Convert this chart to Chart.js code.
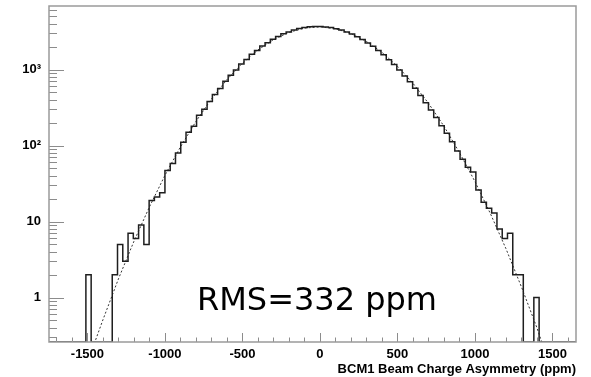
<!DOCTYPE html>
<html>
<head>
<meta charset="utf-8">
<script src="https://cdn.jsdelivr.net/npm/chart.js@4.4.0/dist/chart.umd.min.js"></script>
<style>
  html, body { margin: 0; padding: 0; background: #fff; }
  canvas { display: block; }
</style>
</head>
<body>
<canvas id="chart1" width="591" height="377"></canvas>
<script>
// histogram: 100 bins of 34 ppm starting at -1748 ppm
const binLow = -1748;
const binWidth = 34;
const counts = [
    0, 0, 0, 0, 0, 0, 0, 2, 0, 0,
    0, 0, 2, 5, 3, 7, 6, 9, 5, 19,
    21, 24, 47, 58, 80, 111, 150, 179, 250, 300,
    380, 470, 565, 700, 845, 990, 1185, 1360, 1590, 1790,
    2040, 2250, 2510, 2720, 2960, 3130, 3320, 3470, 3590, 3660,
    3700, 3690, 3640, 3580, 3440, 3310, 3120, 2940, 2700, 2490,
    2240, 2030, 1780, 1570, 1350, 1170, 985, 825, 690, 570,
    455, 365, 295, 235, 182, 145, 112, 85, 66, 52,
    45, 26, 18, 15, 13, 8, 6, 7, 2, 2,
    0, 0, 1, 0, 0, 0, 0, 0, 0, 0
];

// dotted gaussian fit
const fitX = [-1500, -1400, -1300, -1200, -1100, -1000, -900, -800, -700, -600, -500, -400, -300, -200, -100,
    0, 100, 200, 300, 400, 500, 600, 700, 800, 900, 1000, 1100, 1200, 1300, 1400, 1500];
const fitY = [0.14, 0.51, 1.76, 5.5, 15.6, 40.6, 96, 208, 410, 738, 1213, 1816, 2481, 3092, 3517,
    3648, 3453, 2981, 2348, 1687, 1106, 661, 361, 180, 81, 33.7, 12.7, 4.4, 1.38, 0.40, 0.10];

const xMajor = [-1500, -1000, -500, 0, 500, 1000, 1500];
const xMinor = [-1700, -1600, -1400, -1300, -1200, -1100, -900, -800, -700, -600, -400, -300, -200, -100,
    100, 200, 300, 400, 600, 700, 800, 900, 1100, 1200, 1300, 1400, 1600];
const yMajor = [1, 10, 100, 1000];
const yLabels = ['1', '10', '10²', '10³'];
const yMinor = [0.3, 0.4, 0.5, 0.6, 0.7, 0.8, 0.9, 2, 3, 4, 5, 6, 7, 8, 9,
    20, 30, 40, 50, 60, 70, 80, 90, 200, 300, 400, 500, 600, 700, 800, 900,
    2000, 3000, 4000, 5000, 6000];

const xMin = binLow;
const xMax = binLow + binWidth * counts.length;
const yMin = 0.26;
const yMax = 6870;

// empty bins sit on the bottom of the frame (log axis)
const histPoints = counts.map((c, i) => ({ x: binLow + i * binWidth, y: c > 0 ? c : yMin }));
histPoints.push({ x: xMax, y: yMin });
const fitPoints = fitX.map((v, i) => ({ x: v, y: fitY[i] }));

const fontBold = { family: "'Liberation Sans', Arial, sans-serif", size: 13, weight: 'bold' };

// ROOT style frame with inward ticks, plus the RMS note
const frameTicks = {
    id: 'frameTicks',
    afterDraw(chart) {
        const { ctx, chartArea: a, scales: { x, y } } = chart;
        ctx.save();
        ctx.strokeStyle = '#8c8c8c';
        ctx.lineWidth = 1;
        ctx.beginPath();
        xMajor.forEach(v => {
            const px = Math.round(x.getPixelForValue(v)) + 0.5;
            ctx.moveTo(px, a.bottom); ctx.lineTo(px, a.bottom - 9);
        });
        xMinor.forEach(v => {
            const px = Math.round(x.getPixelForValue(v)) + 0.5;
            ctx.moveTo(px, a.bottom); ctx.lineTo(px, a.bottom - 4.5);
        });
        yMajor.forEach(v => {
            const py = Math.round(y.getPixelForValue(v)) + 0.5;
            ctx.moveTo(a.left, py); ctx.lineTo(a.left + 15, py);
        });
        yMinor.forEach(v => {
            const py = Math.round(y.getPixelForValue(v)) + 0.5;
            ctx.moveTo(a.left, py); ctx.lineTo(a.left + 8, py);
        });
        ctx.stroke();

        ctx.strokeStyle = '#9a9a9a';
        ctx.lineWidth = 1.5;
        ctx.strokeRect(a.left, a.top, a.right - a.left, a.bottom - a.top);

        ctx.fillStyle = '#000';
        ctx.font = "32px 'DejaVu Sans', sans-serif";
        ctx.textBaseline = 'alphabetic';
        ctx.fillText('RMS=332 ppm', 197, 310);
        ctx.restore();
    }
};

const ctx1 = document.getElementById('chart1').getContext('2d');
const myChart1 = new Chart(ctx1, {
    type: 'line',
    data: {
        datasets: [{
            label: 'hist',
            data: histPoints,
            stepped: true,
            borderColor: '#1e1e1e',
            borderWidth: 1.5,
            pointRadius: 0,
            fill: false
        }, {
            label: 'fit',
            data: fitPoints,
            borderColor: '#333',
            borderWidth: 1,
            borderDash: [2, 2],
            pointRadius: 0,
            fill: false
        }]
    },
    options: {
        responsive: false,
        animation: false,
        devicePixelRatio: 1,
        layout: { padding: { top: 6, right: 15, left: 0, bottom: 0 } },
        plugins: {
            legend: { display: false },
            tooltip: { enabled: false }
        },
        scales: {
            x: {
                type: 'linear',
                bounds: 'data',
                min: xMin,
                max: xMax,
                grid: { display: false, drawTicks: false },
                border: { display: false },
                afterBuildTicks: s => { s.ticks = xMajor.map(v => ({ value: v })); },
                ticks: {
                    font: fontBold,
                    color: '#000',
                    padding: 5,
                    maxRotation: 0,
                    autoSkip: false,
                    callback: (v) => String(v)
                },
                title: {
                    display: true,
                    text: 'BCM1 Beam Charge Asymmetry (ppm)',
                    align: 'end',
                    color: '#000',
                    font: fontBold,
                    padding: 0
                },
                afterFit: s => { s.height = 35; s.paddingLeft = 0; s.paddingRight = 0; }
            },
            y: {
                type: 'logarithmic',
                bounds: 'data',
                min: yMin,
                max: yMax,
                grid: { display: false, drawTicks: false },
                border: { display: false },
                afterBuildTicks: s => { s.ticks = yMajor.map(v => ({ value: v })); },
                ticks: {
                    font: fontBold,
                    color: '#000',
                    padding: 8,
                    autoSkip: false,
                    callback: (v) => yLabels[yMajor.indexOf(v)]
                },
                afterFit: s => { s.width = 49; s.paddingTop = 0; s.paddingBottom = 0; }
            }
        }
    },
    plugins: [frameTicks]
});
</script>
</body>
</html>
